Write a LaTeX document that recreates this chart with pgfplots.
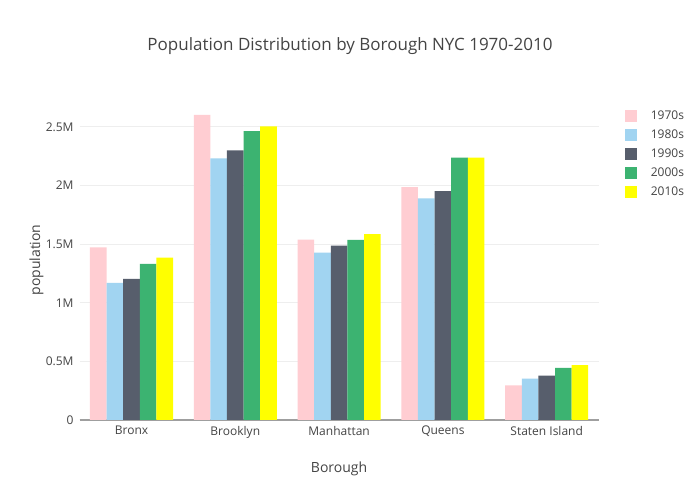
\documentclass[border=0pt]{standalone}
\usepackage{fontspec}
\setmainfont{Open Sans}
\usepackage{pgfplots}
\pgfplotsset{compat=1.18}
\definecolor{c70}{RGB}{255,205,210}
\definecolor{c80}{RGB}{161,212,241}
\definecolor{c90}{RGB}{87,94,108}
\definecolor{c00}{RGB}{60,179,113}
\definecolor{c10}{RGB}{255,255,0}
\definecolor{txt}{RGB}{68,68,68}
\definecolor{gridc}{RGB}{238,238,238}
\pgfplotsset{sq/.style={legend image code/.code={\path[##1,draw=none] (0pt,-4.5pt) rectangle (9pt,4.5pt);}}}
\begin{document}
\begin{tikzpicture}
\path[use as bounding box, fill=white] (0pt,0pt) rectangle (525pt,375pt);
\node[text=txt, font=\fontsize{12.75}{15}\selectfont] at (262.5pt,340.5pt) {Population Distribution by Borough NYC 1970-2010};
\begin{axis}[
  at={(59.7pt,60pt)}, anchor=south west, scale only axis,
  width=389.25pt, height=240pt,
  ybar, bar width=0.16,
  xmin=-0.5, xmax=4.5, ymin=0, ymax=2730000,
  xtick={0,1,2,3,4},
  xticklabels={Bronx,Brooklyn,Manhattan,Queens,Staten Island},
  ytick={0,500000,1000000,1500000,2000000,2500000},
  yticklabels={0,0.5M,1M,1.5M,2M,2.5M},
  scaled y ticks=false,
  /pgf/number format/assume math mode=true,
  major tick length=0pt,
  axis x line=bottom, axis y line=left,
  x axis line style={-, draw=gray!75, line width=0.9pt},
  y axis line style={draw=none},
  ymajorgrids, grid style={gridc, line width=0.75pt},
  tick label style={text=txt, font=\fontsize{9}{11}\selectfont},
  yticklabel style={xshift=-1pt},
  xticklabel style={yshift=-1pt},
  xlabel={Borough}, ylabel={population},
  label style={text=txt, font=\fontsize{10.5}{12}\selectfont},
  xlabel style={at={(rel axis cs:0.5,-0.153)}, anchor=center},
  ylabel style={at={(rel axis cs:-0.083,0.5)}, anchor=center},
  legend style={at={(rel axis cs:1.050,0.969)}, anchor=north west, draw=none, fill=none, inner sep=0pt,
    font=\fontsize{9}{11}\selectfont, text=txt,
    nodes={inner sep=0pt, text height=7pt, text depth=2pt, anchor=west},
    row sep=5.25pt, column sep=10.5pt},
  legend cell align=left,
]
\addplot[sq, fill=c70, draw=none, bar shift=-0.32] coordinates {(0,1471701) (1,2602012) (2,1539233) (3,1987174) (4,295443)};
\addplot[sq, fill=c80, draw=none, bar shift=-0.16] coordinates {(0,1168972) (1,2230936) (2,1428285) (3,1891325) (4,352121)};
\addplot[sq, fill=c90, draw=none, bar shift=0] coordinates {(0,1203789) (1,2300664) (2,1487536) (3,1951598) (4,378977)};
\addplot[sq, fill=c00, draw=none, bar shift=0.16] coordinates {(0,1332650) (1,2465326) (2,1537195) (3,2239000) (4,443728)};
\addplot[sq, fill=c10, draw=none, bar shift=0.32] coordinates {(0,1385108) (1,2504700) (2,1585873) (3,2239000) (4,468730)};
\legend{1970s,1980s,1990s,2000s,2010s}
\end{axis}
\end{tikzpicture}
\end{document}
